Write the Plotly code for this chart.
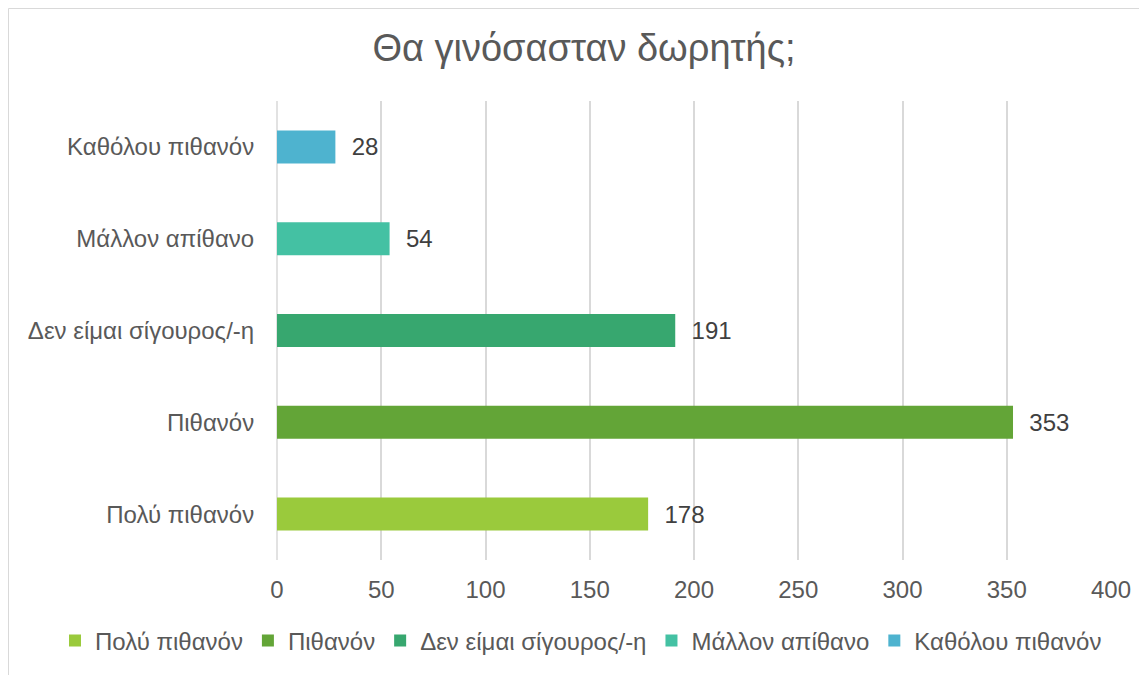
import plotly.graph_objects as go

categories = ["Πολύ πιθανόν", "Πιθανόν", "Δεν είμαι σίγουρος/-η", "Μάλλον απίθανο", "Καθόλου πιθανόν"]
values = [178, 353, 191, 54, 28]
colors = ["#9ACA3C", "#63A537", "#37A76F", "#44C1A3", "#4EB3CF"]
x_ticks = [0, 50, 100, 150, 200, 250, 300, 350, 400]

FONT = "Liberation Sans, Arial, sans-serif"
FS = 24

fig = go.Figure()
for cat, val, col in zip(categories, values, colors):
    fig.add_trace(go.Bar(
        y=[cat], x=[val], name=cat, orientation="h",
        marker=dict(color=col, line=dict(width=0)),
        width=0.36,
        text=[val], texttemplate="\u00a0\u00a0%{x}", textposition="outside",
        textfont=dict(family=FONT, size=FS, color="#404040"),
        cliponaxis=False,
        hoverinfo="x+y",
    ))

# page body adds an 8px offset; figure coordinates are target pixels minus 8
OFF = 8
W, H = 1147 - OFF, 675 - OFF
L, R, T, B = 277 - OFF, 36, 101 - OFF, 675 - 560
pw, ph = W - L - R, H - T - B

def px_x(px):
    return (px - OFF - L) / pw

def px_y(py):
    return (H - B - (py - OFF)) / ph

fig.update_layout(
    width=W, height=H,
    margin=dict(l=L, r=R, t=T, b=B, pad=0, autoexpand=False),
    paper_bgcolor="white", plot_bgcolor="white",
    barmode="overlay",
    title=dict(text="Θα γινόσασταν δωρητής;", x=(584 - OFF) / W, xanchor="center",
               y=1 - (48 - OFF) / H, yanchor="middle",
               font=dict(family=FONT, size=38, color="#595959")),
    font=dict(family=FONT, size=FS, color="#595959"),
    xaxis=dict(range=[0, 400], tickvals=x_ticks, showgrid=True, gridcolor="#D9D9D9",
               gridwidth=1.5, zeroline=False, showline=False, automargin=False,
               ticks="outside", ticklen=8, tickcolor="rgba(0,0,0,0)",
               tickfont=dict(family=FONT, size=FS, color="#595959"), fixedrange=True),
    yaxis=dict(categoryorder="array", categoryarray=categories, range=[-0.5, 4.5],
               showgrid=False, zeroline=False, showline=False, automargin=False,
               ticks="outside", ticklen=17, tickcolor="rgba(0,0,0,0)",
               tickfont=dict(family=FONT, size=FS, color="#595959"), fixedrange=True),
    legend=dict(orientation="h", x=px_x(55), xanchor="left",
                y=px_y(641), yanchor="middle",
                font=dict(family=FONT, size=FS, color="#595959"),
                traceorder="normal", itemwidth=30, bgcolor="rgba(0,0,0,0)"),
    showlegend=True,
    shapes=[
        dict(type="line", xref="paper", yref="paper", x0=0, x1=0, y0=0, y1=1,
             line=dict(color="#D9D9D9", width=1.5), layer="below"),
        dict(type="rect", xref="paper", yref="paper",
             x0=px_x(OFF + 0.5), x1=px_x(1160), y0=px_y(690), y1=px_y(OFF + 0.5),
             line=dict(color="#D9D9D9", width=1), fillcolor="rgba(0,0,0,0)", layer="below"),
    ],
)

fig.write_html("out.html")
